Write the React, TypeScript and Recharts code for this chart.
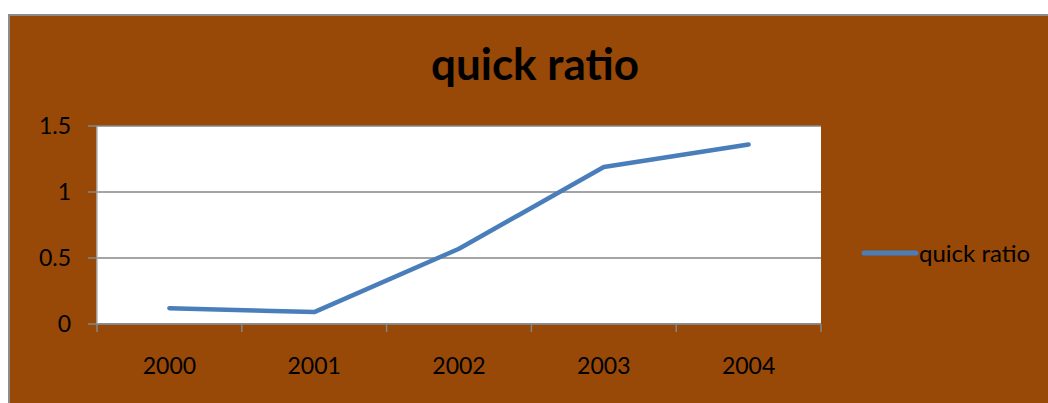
import { CartesianGrid, Legend, Line, LineChart, XAxis, YAxis } from 'recharts'

const years = ['2000', '2001', '2002', '2003', '2004']
const quickRatio = [0.12, 0.09, 0.57, 1.19, 1.36]
const yTicks = [0, 0.5, 1, 1.5]

// each year sits in the middle of its own slot on a 0..n number axis,
// so the tick marks can fall on the slot boundaries like a category axis
const chartData = years.map((year, i) => ({
  year,
  pos: i + 0.5,
  quickRatio: quickRatio[i],
}))
const boundaryTicks = years.map((_, i) => i).concat(years.length)
const centerTicks = years.map((_, i) => i + 0.5)

const BG = '#984807'
const GRID = '#868686'
const LINE = '#4a7ebb'

function LegendBox() {
  return (
    <div style={{ display: 'flex', alignItems: 'center', fontSize: 24, color: '#000' }}>
      <svg width={58} height={10}>
        <line x1={3} y1={5} x2={55} y2={5} stroke={LINE} strokeWidth={5} strokeLinecap='round' />
      </svg>
      <span>quick ratio</span>
    </div>
  )
}

export default function App() {
  return (
    <div
      style={{
        position: 'fixed',
        left: 8,
        top: 14,
        width: 1040,
        height: 389,
        boxSizing: 'border-box',
        background: BG,
        borderLeft: '2px solid #8c8c8c',
        borderTop: '2px solid #8c8c8c',
        fontFamily: 'Lato, sans-serif',
      }}
    >
      <div
        style={{
          position: 'absolute',
          left: 325,
          top: 21,
          width: 400,
          textAlign: 'center',
          fontSize: 44,
          lineHeight: 1.2,
          fontWeight: 'bold',
          color: '#000',
        }}
      >
        quick ratio
      </div>
      <LineChart
        width={1038}
        height={387}
        data={chartData}
        margin={{ top: 110, right: 227, left: 0, bottom: 19 }}
      >
        <CartesianGrid fill='#fff' stroke={GRID} strokeWidth={1.5} vertical={false} />
        <XAxis
          dataKey='pos'
          type='number'
          domain={[0, years.length]}
          ticks={boundaryTicks}
          interval={0}
          tickFormatter={() => ' '}
          height={10}
          tickSize={8}
          axisLine={{ stroke: GRID, strokeWidth: 1.5 }}
          tickLine={{ stroke: GRID, strokeWidth: 1.5 }}
        />
        <XAxis
          xAxisId='years'
          dataKey='pos'
          type='number'
          domain={[0, years.length]}
          ticks={centerTicks}
          interval={0}
          tickFormatter={(v: number) => years[Math.round(v - 0.5)]}
          height={50}
          tickSize={0}
          tickMargin={24}
          axisLine={false}
          tickLine={false}
          tick={{ fill: '#000', fontSize: 23 }}
        />
        <YAxis
          domain={[0, 1.5]}
          ticks={yTicks}
          width={87}
          tickSize={9}
          tickMargin={17}
          axisLine={{ stroke: '#b5b5b5', strokeWidth: 1.5 }}
          tickLine={{ stroke: GRID, strokeWidth: 1.5 }}
          tick={{ fill: '#000', fontSize: 23 }}
        />
        <Legend
          layout='horizontal'
          verticalAlign='middle'
          wrapperStyle={{ left: 851, top: 222, width: 200 }}
          content={() => <LegendBox />}
        />
        <Line
          type='linear'
          dataKey='quickRatio'
          name='quick ratio'
          stroke={LINE}
          strokeWidth={4.5}
          strokeLinecap='round'
          strokeLinejoin='round'
          dot={false}
          activeDot={false}
          isAnimationActive={false}
        />
      </LineChart>
    </div>
  )
}
